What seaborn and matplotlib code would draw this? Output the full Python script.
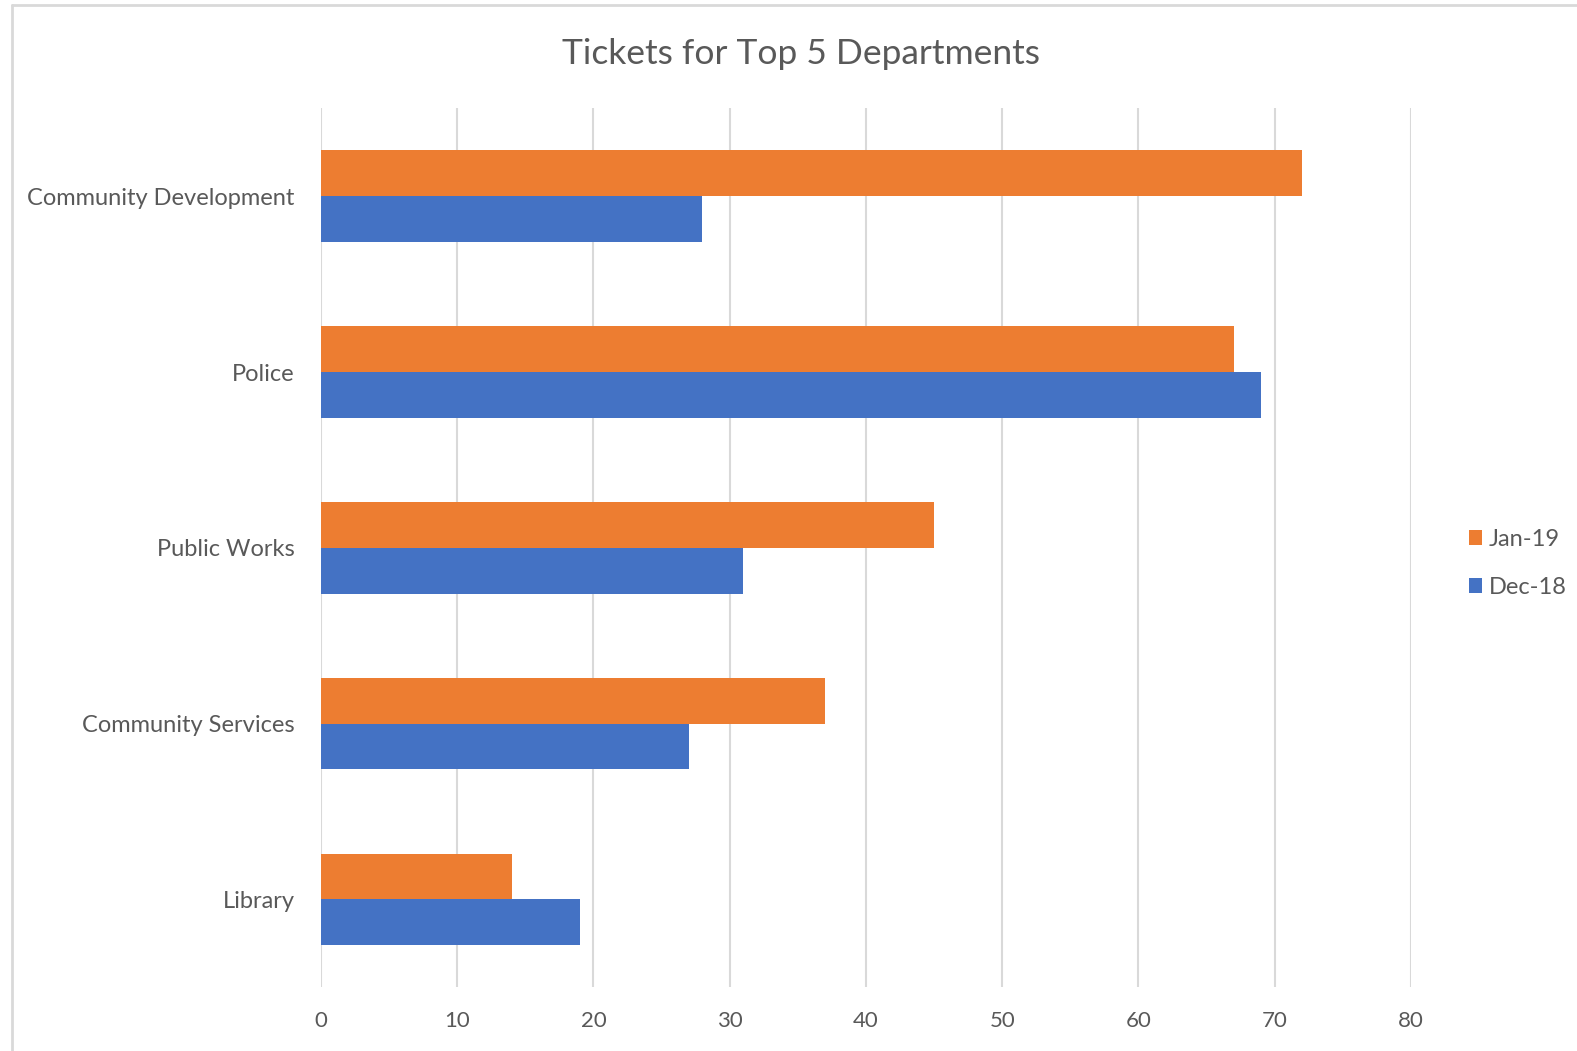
import pandas as pd
import seaborn as sns
import matplotlib.pyplot as plt
from matplotlib.lines import Line2D

departments = ['Community Development', 'Police', 'Public Works',
               'Community Services', 'Library']
jan_19 = [72, 67, 45, 37, 14]
dec_18 = [28, 69, 31, 27, 19]
months = ['Jan-19', 'Dec-18']
x_ticks = [0, 10, 20, 30, 40, 50, 60, 70, 80]

df = pd.DataFrame({
    'Department': departments * 2,
    'Tickets': jan_19 + dec_18,
    'Month': [months[0]] * len(departments) + [months[1]] * len(departments),
})

sns.set_style('white')
plt.rcParams['font.family'] = ['Lato', 'DejaVu Sans']
grey = '#595959'

fig = plt.figure(figsize=(15.77, 10.51), dpi=100)
ax = fig.add_axes([0.2035, 0.0605, 0.6912, 0.8365])

sns.barplot(data=df, x='Tickets', y='Department', hue='Month',
            hue_order=months, order=departments, orient='h',
            palette=['#ED7D31', '#4472C4'], width=0.52, gap=0,
            saturation=1, linewidth=0, ax=ax)

ax.set_xlim(0, 80)
ax.set_ylim(4.5, -0.5)
ax.set_xticks(x_ticks)
ax.grid(axis='x', color='#d9d9d9', linewidth=1.5)
ax.grid(axis='y', visible=False)
ax.set_axisbelow(True)
for s in ax.spines.values():
    s.set_visible(False)
ax.tick_params(axis='both', length=0, colors=grey, labelsize=17)
ax.tick_params(axis='x', labelsize=16, pad=17)
ax.tick_params(axis='y', pad=19)
ax.set_xlabel('')
ax.set_ylabel('')

ax.legend(loc='center left', bbox_to_anchor=(0.918, 0.464),
          bbox_transform=fig.transFigure, frameon=False,
          fontsize=17, handlelength=0.55, handleheight=0.55,
          handletextpad=0.3, labelspacing=1.15, labelcolor=grey)

fig.text(0.508, 0.949, 'Tickets for Top 5 Departments', ha='center',
         va='center', fontsize=25.5, color=grey)

# chart frame: only left and top edges are visible in the crop
fig.add_artist(Line2D([0.0075, 0.0075], [0.0, 0.995], transform=fig.transFigure,
                      color='#d9d9d9', linewidth=2))
fig.add_artist(Line2D([0.0075, 1.0], [0.995, 0.995], transform=fig.transFigure,
                      color='#d9d9d9', linewidth=2))

fig.savefig('out.png', dpi=100)
